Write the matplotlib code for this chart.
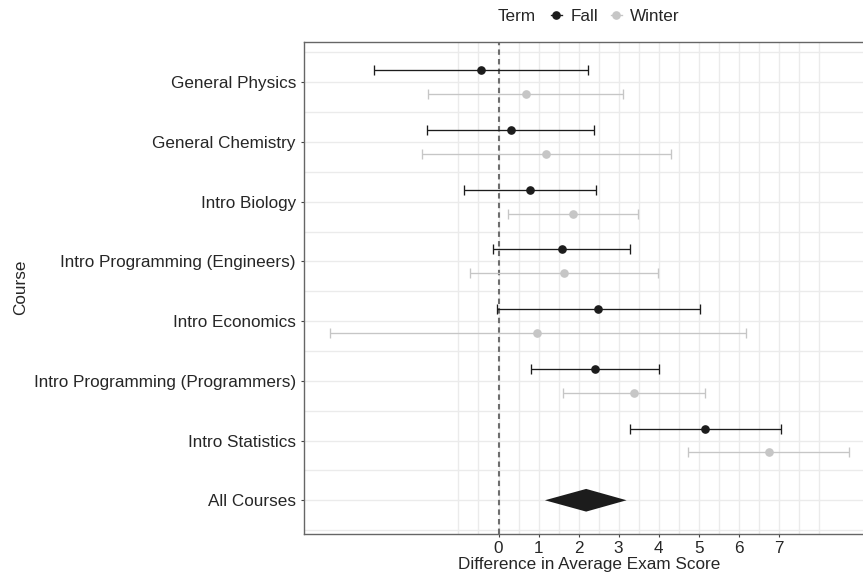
import matplotlib
matplotlib.use("Agg")
import matplotlib.pyplot as plt
from matplotlib.lines import Line2D
from matplotlib.ticker import FixedLocator
import numpy as np

plt.rcParams['font.family'] = ['Liberation Sans', 'DejaVu Sans']

courses = ["General Physics", "General Chemistry", "Intro Biology",
           "Intro Programming (Engineers)", "Intro Economics",
           "Intro Programming (Programmers)", "Intro Statistics", "All Courses"]
terms = ["Fall", "Winter"]

fall_est = [-0.43, 0.31, 0.79, 1.58, 2.49, 2.40, 5.17]
fall_lo = [-3.10, -1.78, -0.87, -0.13, -0.05, 0.80, 3.29]
fall_hi = [2.24, 2.38, 2.44, 3.28, 5.04, 4.01, 7.07]

winter_est = [0.68, 1.19, 1.86, 1.64, 0.97, 3.38, 6.75]
winter_lo = [-1.76, -1.91, 0.24, -0.72, -4.22, 1.60, 4.74]
winter_hi = [3.12, 4.30, 3.48, 3.99, 6.18, 5.15, 8.77]

overall_est = 2.19
overall_lo = 1.16
overall_hi = 3.20

x_ticks = [0, 1, 2, 3, 4, 5, 6, 7]

fall_color = "#1c1c1c"
winter_color = "#c6c6c6"
text_color = "#262626"

W, H = 863, 575
fig = plt.figure(figsize=(W / 100, H / 100), dpi=100)
ax = fig.add_axes([303.6 / W, 1 - 533.7 / H, (875.5 - 303.6) / W, (533.7 - 41.7) / H])

ax.set_xlim(-4.87, 9.42)
ax.set_ylim(7.56, -0.68)

# grid
for gx in np.arange(-1, 8.01, 0.5):
    ax.axvline(gx, color="#ebebeb", lw=1.0, zorder=0)
for gy in np.arange(-0.5, 7.51, 0.5):
    ax.axhline(gy, color="#ebebeb", lw=1.0, zorder=0)

ax.axvline(0, color="#6e6e6e", lw=1.5, ls=(0, (2.6, 2.0)), zorder=1.5)

n = len(fall_est)
ypos = np.arange(n)
dodge = 0.2

fe = np.array(fall_est); fl = np.array(fall_lo); fh = np.array(fall_hi)
we = np.array(winter_est); wl = np.array(winter_lo); wh = np.array(winter_hi)

ax.errorbar(fe, ypos - dodge, xerr=[fe - fl, fh - fe], fmt='o', color=fall_color,
            ecolor=fall_color, elinewidth=0.95, capsize=3.8, capthick=0.95,
            markersize=5.2, zorder=3)
ax.errorbar(we, ypos + dodge, xerr=[we - wl, wh - we], fmt='o', color=winter_color,
            ecolor=winter_color, elinewidth=0.95, capsize=3.8, capthick=0.95,
            markersize=5.2, zorder=3)

yo = len(courses) - 1
hh = 0.19
ax.fill([overall_lo, overall_est, overall_hi, overall_est],
        [yo, yo - hh, yo, yo + hh], color="#1c1c1c", lw=0, zorder=3)

ax.xaxis.set_major_locator(FixedLocator(x_ticks))
ax.set_xticklabels([str(t) for t in x_ticks])
ax.set_yticks(np.arange(len(courses)))
ax.set_yticklabels(courses)

ax.tick_params(axis='both', labelsize=12.3, colors="#444444", labelcolor=text_color,
               length=2.5, width=0.8)
ax.tick_params(axis='y', pad=3)
ax.tick_params(axis='x', pad=2.5)

for s in ['left', 'bottom', 'top']:
    ax.spines[s].set_color("#666666")
    ax.spines[s].set_linewidth(1.0)
ax.spines['right'].set_visible(False)

fig.text(589 / W, 1 - 564 / H, "Difference in Average Exam Score", ha='center', va='center',
         fontsize=12.3, color=text_color)
fig.text(20.5 / W, 1 - 287.7 / H, "Course", ha='center', va='center', rotation=90,
         fontsize=12.3, color=text_color)

# legend
fig.text(497.5 / W, 1 - 16.5 / H, "Term", ha='left', va='center', fontsize=12.3, color=text_color)
handles = [Line2D([], [], color=fall_color, marker='o', markersize=5.2, lw=0.95),
           Line2D([], [], color=winter_color, marker='o', markersize=5.2, lw=0.95)]
leg = fig.legend(handles, terms, loc='center left', bbox_to_anchor=(550.5 / W, 1 - 16.5 / H),
                 ncol=2, frameon=False, fontsize=12.3, handlelength=0.65, handletextpad=0.5,
                 columnspacing=0.75, borderpad=0, borderaxespad=0)
for t in leg.get_texts():
    t.set_color(text_color)

fig.savefig("out.png", dpi=100)
